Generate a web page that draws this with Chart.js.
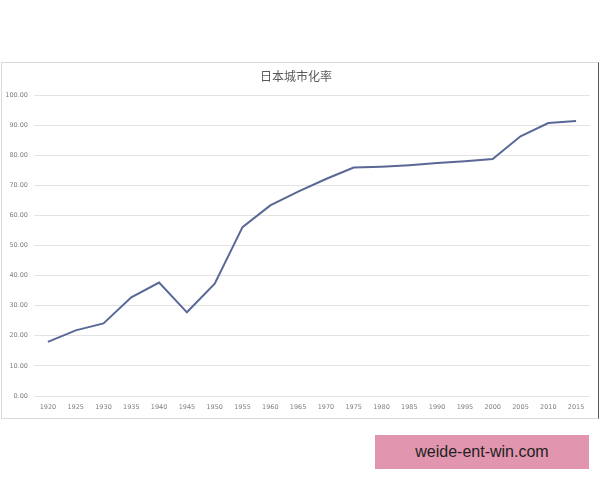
<!DOCTYPE html>
<html>
<head>
<meta charset="utf-8">
<script src="https://cdn.jsdelivr.net/npm/chart.js@4.4.0/dist/chart.umd.min.js"></script>
<style>
	body { margin: 0; background: #fff; width: 600px; height: 480px; position: relative; overflow: hidden; }
	#box {
		position: absolute; left: 1px; top: 62px; width: 596px; height: 355px;
		border: 1px solid #d9d9d9; border-right-color: #555;
	}
	#mark {
		position: absolute; left: 375px; top: 435px; width: 214px; height: 34px;
		background: #e295ae; color: #222; font: 16px "Liberation Sans", Arial, sans-serif;
		line-height: 34px; text-align: center;
	}
</style>
</head>
<body>
<div id="box"><canvas id="urbanChart"></canvas></div>
<div id="mark">weide-ent-win.com</div>
<script>
const years = ["1920", "1925", "1930", "1935", "1940", "1945", "1950", "1955", "1960", "1965",
	"1970", "1975", "1980", "1985", "1990", "1995", "2000", "2005", "2010", "2015"];
const urbanRate = [18.0, 21.8, 24.1, 32.8, 37.7, 27.8, 37.3, 56.1, 63.3, 67.9,
	72.1, 75.9, 76.2, 76.7, 77.4, 78.0, 78.7, 86.3, 90.7, 91.4];
const yTicks = { min: 0, max: 100, step: 10 };

document.addEventListener("DOMContentLoaded", function () {
	const ctx = document.getElementById("urbanChart").getContext("2d");
	new Chart(ctx, {
		type: "line",
		data: {
			labels: years,
			datasets: [
				{
					label: "日本城市化率",
					data: urbanRate,
					borderColor: "#5a6897",
					borderWidth: 2,
					pointRadius: 0,
					tension: 0,
				},
			],
		},
		options: {
			responsive: true,
			maintainAspectRatio: false,
			animation: false,
			layout: { padding: { left: 0, right: 8, top: 0, bottom: 0 } },
			plugins: {
				legend: { display: false },
				tooltip: { enabled: false },
				title: {
					display: true,
					text: "日本城市化率",
					color: "#595959",
					font: { family: "'Noto Sans CJK SC', sans-serif", size: 12, weight: "normal" },
					padding: { top: 6, bottom: 11.6 },
				},
			},
			scales: {
				x: {
					offset: true,
					grid: { display: false, drawTicks: false },
					border: { display: false },
					ticks: {
						color: "#7f7f7f",
						font: { family: "'DejaVu Sans', sans-serif", size: 6.5 },
						padding: 7,
						maxRotation: 0,
						autoSkip: false,
					},
					afterFit: function (scale) { scale.height = 22; },
				},
				y: {
					min: yTicks.min,
					max: yTicks.max,
					grid: { color: "#e3e3e3", lineWidth: 1, drawTicks: false },
					border: { display: false },
					ticks: {
						stepSize: yTicks.step,
						color: "#7f7f7f",
						font: { family: "'DejaVu Sans', sans-serif", size: 6.5 },
						padding: 6,
						callback: (v) => v.toFixed(2),
					},
					afterFit: function (scale) { scale.width = 32; },
				},
			},
		},
	});
});
</script>
</body>
</html>
